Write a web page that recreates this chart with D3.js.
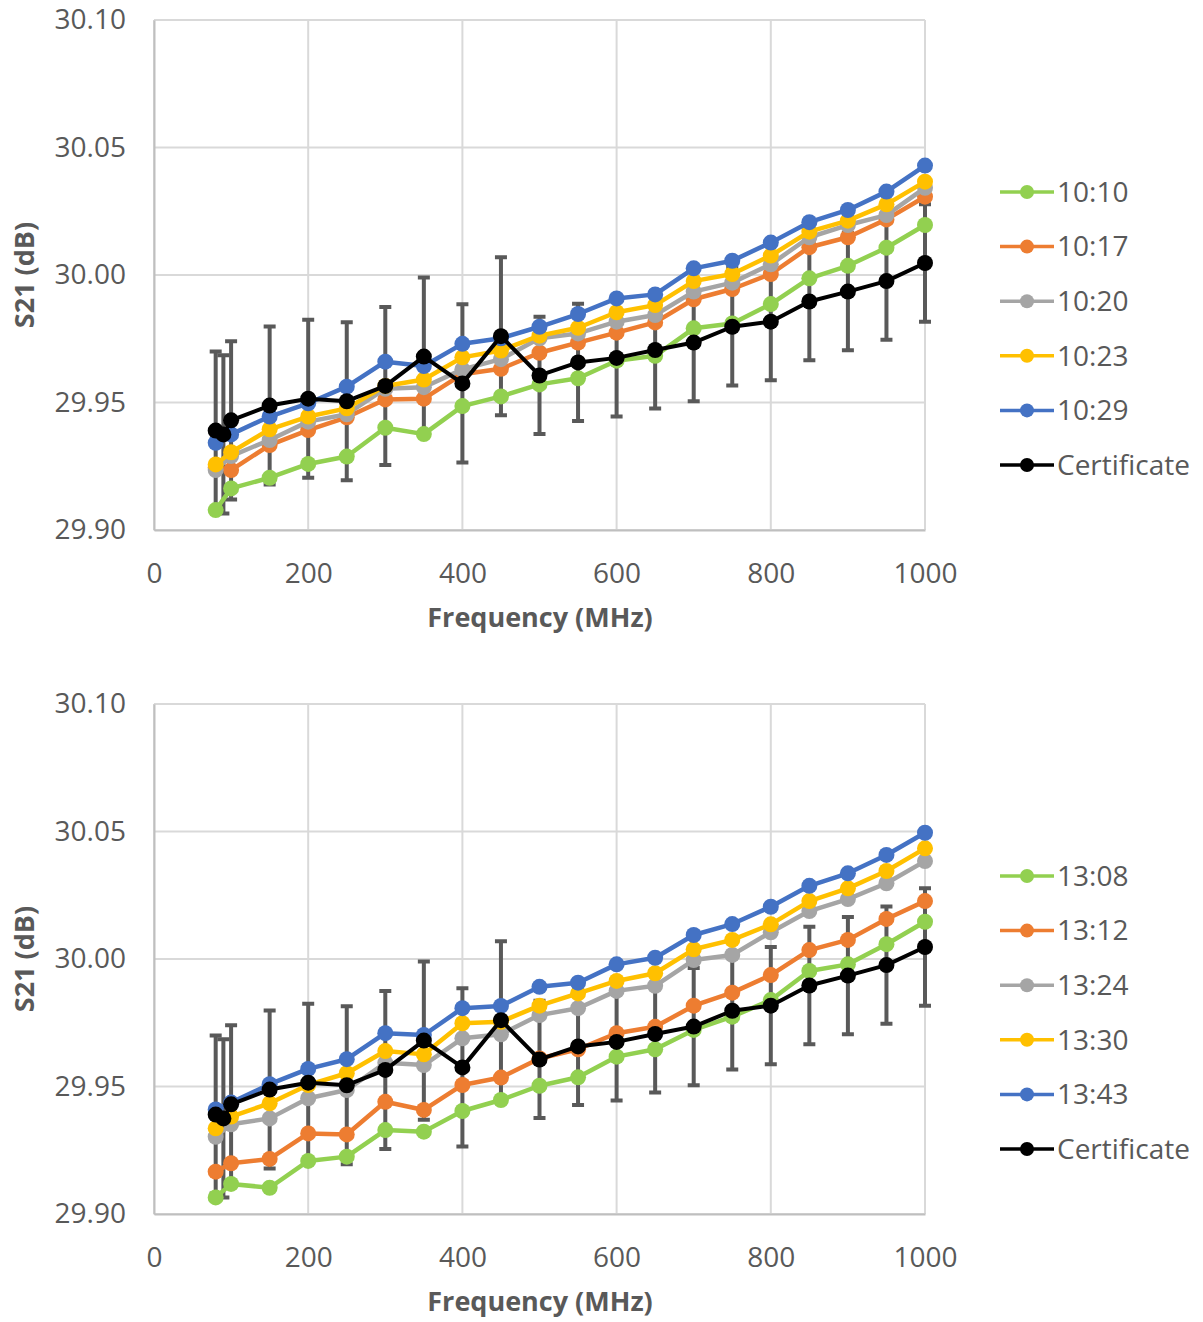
<!DOCTYPE html>
<html>
<head>
<meta charset="utf-8">
<script src="https://cdn.jsdelivr.net/npm/d3@7"></script>
<style>
  body { margin: 0; background: #fff; }
  svg { display: block; font-family: "Open Sans", "Noto Sans", sans-serif; }
</style>
</head>
<body>
<svg id="chart" width="1203" height="1322"></svg>
<script>
// S21 vs frequency, two measurement sessions against the certificate values
const freqs = [80, 100, 150, 200, 250, 300, 350, 400, 450, 500, 550, 600, 650, 700, 750, 800, 850, 900, 950, 1000];
const certFreqs = [80, 90, 100, 150, 200, 250, 300, 350, 400, 450, 500, 550, 600, 650, 700, 750, 800, 850, 900, 950, 1000];

const certificate = [29.939, 29.9375, 29.943, 29.9488, 29.9515, 29.9505, 29.9565, 29.968, 29.9575, 29.976, 29.9606,
  29.9657, 29.9675, 29.9706, 29.9735, 29.9797, 29.9817, 29.9896, 29.9935, 29.9976, 30.0047];
const certErr = [0.031, 0.031, 0.031, 0.031, 0.031, 0.031, 0.031, 0.031, 0.031, 0.031, 0.023,
  0.023, 0.023, 0.023, 0.023, 0.023, 0.023, 0.023, 0.023, 0.023, 0.023];

// morning session
const s1010 = [29.9078, 29.9163, 29.9205, 29.9259, 29.9288, 29.9401, 29.9376, 29.9486, 29.9524, 29.9571, 29.9595, 29.9664, 29.9683, 29.9791, 29.981, 29.9886, 29.9987, 30.0036, 30.0107, 30.0196];
const s1017 = [29.9245, 29.9235, 29.9333, 29.9392, 29.9442, 29.9512, 29.9515, 29.9611, 29.9632, 29.9695, 29.9735, 29.9774, 29.9814, 29.9905, 29.9945, 30.0004, 30.0109, 30.0148, 30.0218, 30.0307];
const s1020 = [29.9235, 29.929, 29.9353, 29.9425, 29.9454, 29.9554, 29.956, 29.963, 29.967, 29.9752, 29.9771, 29.9817, 29.9843, 29.9935, 29.997, 30.0042, 30.0148, 30.0196, 30.0235, 30.0342];
const s1023 = [29.9257, 29.9305, 29.9395, 29.9445, 29.9477, 29.9565, 29.959, 29.9677, 29.9704, 29.9762, 29.9793, 29.9854, 29.9882, 29.9976, 30.0004, 30.0076, 30.017, 30.0213, 30.0277, 30.0366];
const s1029 = [29.9342, 29.9375, 29.9445, 29.9497, 29.9562, 29.966, 29.9643, 29.973, 29.9752, 29.9797, 29.9847, 29.9908, 29.9924, 30.0026, 30.0056, 30.0127, 30.0207, 30.0255, 30.0327, 30.0429];

// afternoon session
const s1308 = [29.9065, 29.9118, 29.9103, 29.9208, 29.9225, 29.9329, 29.9323, 29.9404, 29.9447, 29.9503, 29.9536, 29.9617, 29.9646, 29.9722, 29.9774, 29.9839, 29.9953, 29.9979, 30.0058, 30.0146];
const s1312 = [29.9166, 29.9199, 29.9216, 29.9316, 29.9312, 29.944, 29.9408, 29.9506, 29.9535, 29.961, 29.9646, 29.9709, 29.9734, 29.9817, 29.9868, 29.9937, 30.0035, 30.0075, 30.0157, 30.0227];
const s1324 = [29.9303, 29.9352, 29.9375, 29.9454, 29.9486, 29.9593, 29.9584, 29.9689, 29.9705, 29.978, 29.9807, 29.9875, 29.9895, 29.9996, 30.0016, 30.0105, 30.0188, 30.0235, 30.0297, 30.0384];
const s1330 = [29.9336, 29.9382, 29.9434, 29.9506, 29.9552, 29.9639, 29.9626, 29.9748, 29.9754, 29.9817, 29.9865, 29.9914, 29.9944, 30.0038, 30.0075, 30.0136, 30.0227, 30.0277, 30.0345, 30.0434];
const s1343 = [29.941, 29.9437, 29.9509, 29.9569, 29.9607, 29.9709, 29.9702, 29.9807, 29.9816, 29.9891, 29.9907, 29.9979, 30.0005, 30.0094, 30.0137, 30.0205, 30.0287, 30.0336, 30.0408, 30.0495];

const xTicks = [0, 200, 400, 600, 800, 1000];
const yTicks = [29.90, 29.95, 30.00, 30.05, 30.10];

const colors = ["#92D050", "#ED7D31", "#A5A5A5", "#FFC000", "#4472C4"];
const textColor = "#595959";

const svg = d3.select("#chart");
svg.append("rect").attr("width", 1203).attr("height", 1322).attr("fill", "#fff");

function drawPanel(top, names, series) {
    const x = d3.scaleLinear().domain([0, 1000]).range([154, 925]);
    const y = d3.scaleLinear().domain([29.9, 30.1]).range([top + 510, top]);
    const g = svg.append("g");

    // gridlines
    g.selectAll(".hgrid").data(yTicks).enter().append("line")
        .attr("x1", x(0)).attr("x2", x(1000))
        .attr("y1", d => y(d)).attr("y2", d => y(d))
        .attr("stroke", "#d9d9d9").attr("stroke-width", 2);
    g.selectAll(".vgrid").data(xTicks).enter().append("line")
        .attr("x1", d => x(d)).attr("x2", d => x(d))
        .attr("y1", y(29.9)).attr("y2", y(30.1))
        .attr("stroke", "#d9d9d9").attr("stroke-width", 2);

    // axes
    const xAxis = g.append("g").attr("transform", `translate(0,${y(29.9)})`)
        .call(d3.axisBottom(x).tickValues(xTicks).tickSize(0).tickPadding(43).tickFormat(d3.format("d")));
    const yAxis = g.append("g").attr("transform", `translate(${x(0)},0)`)
        .call(d3.axisLeft(y).tickValues(yTicks).tickSize(0).tickPadding(28).tickFormat(d3.format(".2f")));
    [xAxis, yAxis].forEach(a => {
        a.select(".domain").attr("stroke", "#bfbfbf").attr("stroke-width", 2);
        a.selectAll("text").attr("fill", textColor).style("font-size", "28px")
            .style("font-family", "'Open Sans', sans-serif");
    });
    xAxis.selectAll("text").attr("dy", "0.35em");

    // axis titles
    g.append("text").attr("x", 540).attr("y", top + 600)
        .attr("text-anchor", "middle").attr("dominant-baseline", "middle")
        .attr("font-weight", "bold").attr("font-size", 27).attr("fill", textColor)
        .text("Frequency (MHz)");
    g.append("text")
        .attr("transform", `translate(27,${top + 255}) rotate(-90)`)
        .attr("text-anchor", "middle").attr("dominant-baseline", "middle")
        .attr("font-weight", "bold").attr("font-size", 27).attr("fill", textColor)
        .text("S21 (dB)");

    // certificate error bars sit behind everything
    const cert = certFreqs.map((f, i) => ({ f, v: certificate[i], e: certErr[i] }));
    const eb = g.append("g").attr("stroke", "#595959").attr("stroke-width", 4);
    eb.selectAll(".eb").data(cert).enter().append("path")
        .attr("fill", "none")
        .attr("d", d => {
            const cx = x(d.f), y1 = y(d.v + d.e), y2 = y(d.v - d.e);
            return `M${cx},${y1}V${y2}M${cx - 6},${y1}H${cx + 6}M${cx - 6},${y2}H${cx + 6}`;
        });

    const line = d3.line().x(d => x(d.f)).y(d => y(d.v));

    series.forEach((vals, si) => {
        const pts = freqs.map((f, i) => ({ f, v: vals[i] }));
        g.append("path").datum(pts).attr("d", line)
            .attr("fill", "none").attr("stroke", colors[si]).attr("stroke-width", 4.5)
            .attr("stroke-linejoin", "round");
        g.selectAll(null).data(pts).enter().append("circle")
            .attr("cx", d => x(d.f)).attr("cy", d => y(d.v)).attr("r", 8)
            .attr("fill", colors[si]);
    });

    g.append("path").datum(cert).attr("d", line)
        .attr("fill", "none").attr("stroke", "#000").attr("stroke-width", 4)
        .attr("stroke-linejoin", "round");
    g.selectAll(null).data(cert).enter().append("circle")
        .attr("cx", d => x(d.f)).attr("cy", d => y(d.v)).attr("r", 8)
        .attr("fill", "#000");

    // legend
    const legendItems = names.map((n, i) => ({ name: n, color: colors[i] }))
        .concat([{ name: "Certificate", color: "#000" }]);
    const leg = g.selectAll(".leg").data(legendItems).enter().append("g")
        .attr("transform", (d, i) => `translate(1000,${top + 172 + i * 54.6})`);
    leg.append("line").attr("x1", 0).attr("x2", 54)
        .attr("stroke", d => d.color).attr("stroke-width", 3.5);
    leg.append("circle").attr("cx", 27).attr("r", 7).attr("fill", d => d.color);
    leg.append("text").attr("x", 57).attr("dy", "0.35em")
        .attr("font-size", 28).attr("fill", textColor)
        .text(d => d.name);
}

drawPanel(20, ["10:10", "10:17", "10:20", "10:23", "10:29"], [s1010, s1017, s1020, s1023, s1029]);
drawPanel(704, ["13:08", "13:12", "13:24", "13:30", "13:43"], [s1308, s1312, s1324, s1330, s1343]);
</script>
</body>
</html>
